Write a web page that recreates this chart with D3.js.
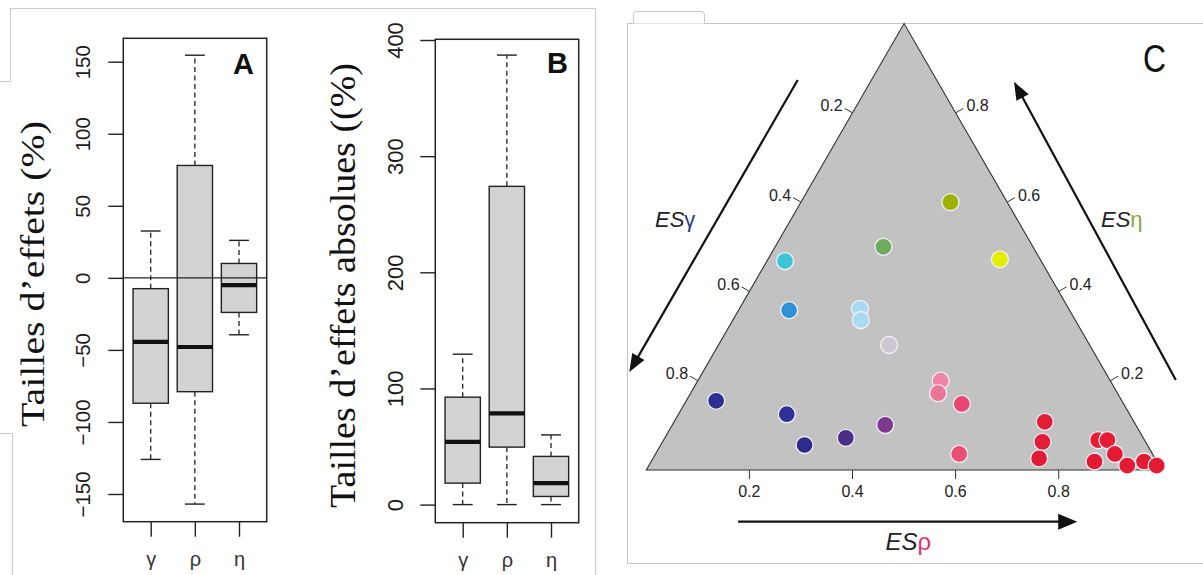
<!DOCTYPE html>
<html><head><meta charset="utf-8">
<script src="https://cdn.jsdelivr.net/npm/d3@7"></script>
<style>html,body{margin:0;padding:0;background:#fff;}svg{display:block;}</style>
</head><body>
<svg id="chart" width="1203" height="575"></svg>
<script>
// ---------------- DATA ----------------
const categories = ["γ", "ρ", "η"];

// Panel A : Tailles d'effets (%)
const aLowWhisker  = [-126, -157, -39.5];
const aQ1          = [-87, -79, -24];
const aMedian      = [-44.5, -48, -5];
const aQ3          = [-7.5, 78, 10];
const aHighWhisker = [32.5, 154.5, 26];
const aTicks       = [-150, -100, -50, 0, 50, 100, 150];

// Panel B : Tailles d'effets absolues (%)
const bLowWhisker  = [0, 0, 0];
const bQ1          = [18.5, 49.5, 7];
const bMedian      = [54, 78.5, 18.5];
const bQ3          = [92.5, 274, 41.5];
const bHighWhisker = [129.5, 387, 60];
const bTicks       = [0, 100, 200, 300, 400];

// Panel C : ternary effect sizes
const esGamma = [0.11, 0.29, 0.078, 0.497, 0.544, 0.405, 0.416, 0.389, 0.787, 0.665, 0.665, 0.577, 0.486, 0.329, 0.348, 0.314, 0.375, 0.173, 0.200, 0.225, 0.090, 0.072, 0.073, 0.121, 0.062, 0.025, 0.005];
const esRho   = [0.29, 0.21, 0.450, 0.035, 0.098, 0.234, 0.248, 0.331, 0.058, 0.210, 0.279, 0.351, 0.413, 0.471, 0.480, 0.538, 0.589, 0.719, 0.737, 0.749, 0.843, 0.861, 0.891, 0.860, 0.928, 0.956, 0.985];
const esEta   = [0.60, 0.50, 0.472, 0.468, 0.358, 0.361, 0.336, 0.280, 0.155, 0.125, 0.056, 0.072, 0.101, 0.200, 0.172, 0.148, 0.036, 0.108, 0.063, 0.026, 0.067, 0.067, 0.036, 0.019, 0.010, 0.019, 0.010];
const ternaryTicks = [0.2, 0.4, 0.6, 0.8];

// point colours (style)
const pointColors = ["#9db200", "#6fab5c", "#e2ee05", "#3cc5d6", "#2f92d6", "#a8dbf2", "#a8dbf2", "#cfc6d3",
  "#2b2f8f", "#2e3097", "#302a8c", "#4b2e87", "#7c3a8f", "#ef86a6", "#eb7499", "#e8486f", "#ec4d74",
  "#e11d38", "#e11d38", "#e21c36", "#e41c34", "#e41c34", "#e41a32", "#e41a32", "#e41a32", "#e41a32", "#e41a32"];

// ---------------- DRAW ----------------
const svg = d3.select("#chart");
const SANS = "'Liberation Sans', Arial, sans-serif";
const SERIF = "'Liberation Serif', 'Times New Roman', serif";

// faint screenshot frames
const frame = svg.append("g").attr("fill", "none").attr("stroke", "#cbcbcb").attr("stroke-width", 1);
frame.append("path").attr("d", "M0,81.5 H10.5 V8.5 H595.5 V575");
frame.append("path").attr("d", "M0,433.5 H12.5 V575");
frame.append("path").attr("d", "M1203,23.5 H627.5 V563.5 H1203").attr("stroke", "#c4c4c4");
frame.append("path").attr("d", "M633.5,23.5 V15 Q633.5,11.5 637,11.5 H701 Q704.5,11.5 704.5,15 V23.5").attr("fill", "#fff").attr("stroke", "#c8c8c8");

function boxPanel(cfg) {
  const g = svg.append("g");
  const x = d3.scaleLinear().domain([1, 3]).range(cfg.xRange);
  const y = d3.scaleLinear().domain(cfg.yDomain).range(cfg.yRange);
  const unit = x(2) - x(1);
  const bw = 0.8 * unit, cw = 0.45 * unit;
  const idx = d3.range(categories.length);

  const b = g.selectAll("g.box").data(idx).join("g").attr("class", "box");
  // whiskers
  b.append("line").attr("x1", i => x(i + 1)).attr("x2", i => x(i + 1))
    .attr("y1", i => y(cfg.q3[i])).attr("y2", i => y(cfg.hi[i]))
    .attr("stroke", "#222").attr("stroke-width", 1.3).attr("stroke-dasharray", "5,3.5");
  b.append("line").attr("x1", i => x(i + 1)).attr("x2", i => x(i + 1))
    .attr("y1", i => y(cfg.q1[i])).attr("y2", i => y(cfg.lo[i]))
    .attr("stroke", "#222").attr("stroke-width", 1.3).attr("stroke-dasharray", "5,3.5");
  b.append("line").attr("x1", i => x(i + 1) - cw / 2).attr("x2", i => x(i + 1) + cw / 2)
    .attr("y1", i => y(cfg.hi[i])).attr("y2", i => y(cfg.hi[i])).attr("stroke", "#222").attr("stroke-width", 1.4);
  b.append("line").attr("x1", i => x(i + 1) - cw / 2).attr("x2", i => x(i + 1) + cw / 2)
    .attr("y1", i => y(cfg.lo[i])).attr("y2", i => y(cfg.lo[i])).attr("stroke", "#222").attr("stroke-width", 1.4);
  // boxes
  b.append("rect").attr("x", i => x(i + 1) - bw / 2).attr("width", bw)
    .attr("y", i => y(cfg.q3[i])).attr("height", i => y(cfg.q1[i]) - y(cfg.q3[i]))
    .attr("fill", "#d3d3d3").attr("stroke", "#222").attr("stroke-width", 1.4);
  b.append("line").attr("x1", i => x(i + 1) - bw / 2).attr("x2", i => x(i + 1) + bw / 2)
    .attr("y1", i => y(cfg.med[i])).attr("y2", i => y(cfg.med[i]))
    .attr("stroke", "#111").attr("stroke-width", 4.2);
  if (cfg.zeroLine) {
    g.append("line").attr("x1", cfg.left).attr("x2", cfg.right)
      .attr("y1", y(0)).attr("y2", y(0)).attr("stroke", "#222").attr("stroke-width", 1.4);
  }
  // frame
  g.append("rect").attr("x", cfg.left).attr("y", cfg.top)
    .attr("width", cfg.right - cfg.left).attr("height", cfg.bottom - cfg.top)
    .attr("fill", "none").attr("stroke", "#222").attr("stroke-width", 1.5);

  // y axis
  const ya = g.append("g").attr("transform", `translate(${cfg.left},0)`)
    .call(d3.axisLeft(y).tickValues(cfg.ticks).tickSize(15).tickSizeOuter(0));
  ya.select(".domain").remove();
  ya.selectAll(".tick line").attr("stroke", "#222").attr("stroke-width", 1.4);
  ya.selectAll(".tick text").attr("x", null).attr("dy", null)
    .attr("transform", `translate(${cfg.tickLabelDx},0) rotate(-90)`)
    .attr("text-anchor", "middle").attr("fill", "#1a1a1a")
    .style("font-family", SANS).style("font-size", cfg.tickFont + "px");

  // x axis
  const xa = g.append("g").attr("transform", `translate(0,${cfg.bottom})`)
    .call(d3.axisBottom(x).tickValues([1, 2, 3]).tickFormat((d, i) => categories[i]).tickSize(15).tickSizeOuter(0));
  xa.select(".domain").remove();
  xa.selectAll(".tick line").attr("stroke", "#222").attr("stroke-width", 1.4);
  xa.selectAll(".tick text").attr("y", 44).attr("dy", null).attr("fill", "#333")
    .style("font-family", SANS).style("font-size", "20px");

  // y title
  g.append("text").attr("transform", `translate(${cfg.titleX},${cfg.titleY}) rotate(-90)`)
    .attr("text-anchor", "middle").attr("fill", "#111")
    .attr("textLength", cfg.titleLen).attr("lengthAdjust", "spacingAndGlyphs")
    .style("font-family", SERIF).style("font-size", cfg.titleFont + "px").text(cfg.title);
  // panel letter
  g.append("text").attr("x", cfg.letterX).attr("y", cfg.letterY).attr("fill", "#111")
    .style("font-family", SANS).style("font-weight", "bold").style("font-size", "29px").text(cfg.letter);
}

boxPanel({
  left: 123.3, right: 266.7, top: 38.3, bottom: 521.7,
  xRange: [150.7, 239], yDomain: [-150, 150], yRange: [494, 61.7],
  lo: aLowWhisker, q1: aQ1, med: aMedian, q3: aQ3, hi: aHighWhisker, ticks: aTicks,
  zeroLine: true, tickLabelDx: -33.5, tickFont: 20.5,
  title: "Tailles d’effets (%)", titleX: 43.5, titleY: 274, titleLen: 306, titleFont: 33,
  letter: "A", letterX: 233, letterY: 74
});
boxPanel({
  left: 435.3, right: 578.7, top: 39.3, bottom: 522.7,
  xRange: [462.7, 551], yDomain: [0, 400], yRange: [504.6, 40],
  lo: bLowWhisker, q1: bQ1, med: bMedian, q3: bQ3, hi: bHighWhisker, ticks: bTicks,
  zeroLine: false, tickLabelDx: -32, tickFont: 22,
  title: "Tailles d’effets absolues ((%)", titleX: 355, titleY: 285.5, titleLen: 445, titleFont: 36,
  letter: "B", letterX: 547, letterY: 73
});

// ---------------- TERNARY ----------------
const tg = svg.append("g");
const baseY = 470, leftX = 646.3, side = 515.5;
const apexY = baseY - side * Math.sqrt(3) / 2;
const xT = d3.scaleLinear().domain([0, 1]).range([leftX, leftX + side]);
const yT = d3.scaleLinear().domain([0, 1]).range([baseY, apexY]);
const pos = (g, r, e) => { const s = g + r + e; return [xT((r + e / 2) / s), yT(e / s)]; };

const corners = [pos(1, 0, 0), pos(0, 1, 0), pos(0, 0, 1)];
tg.append("path").attr("d", d3.line()(corners) + "Z")
  .attr("fill", "#c2c2c2").attr("stroke", "#333").attr("stroke-width", 1.1);

const tl = 9, c30 = Math.cos(Math.PI / 6), s30 = 0.5;
const tickG = tg.append("g").style("font-family", SANS).style("font-size", "16px").attr("fill", "#222");
ternaryTicks.forEach(v => {
  // base (ρ)
  let p = pos(1 - v, v, 0);
  tickG.append("line").attr("x1", p[0]).attr("y1", p[1]).attr("x2", p[0]).attr("y2", p[1] + tl).attr("stroke", "#333");
  tickG.append("text").attr("x", p[0]).attr("y", p[1] + 27).attr("text-anchor", "middle").text(v.toFixed(1));
  // left (γ)
  p = pos(v, 0, 1 - v);
  let q = [p[0] - tl * c30, p[1] - tl * s30];
  tickG.append("line").attr("x1", p[0]).attr("y1", p[1]).attr("x2", q[0]).attr("y2", q[1]).attr("stroke", "#333");
  tickG.append("text").attr("x", q[0] - 2).attr("y", q[1] + 3).attr("text-anchor", "end").text(v.toFixed(1));
  // right (η)
  p = pos(0, 1 - v, v);
  q = [p[0] + tl * c30, p[1] - tl * s30];
  tickG.append("line").attr("x1", p[0]).attr("y1", p[1]).attr("x2", q[0]).attr("y2", q[1]).attr("stroke", "#333");
  tickG.append("text").attr("x", q[0] + 3).attr("y", q[1] + 3).attr("text-anchor", "start").text(v.toFixed(1));
});

// points
tg.append("g").selectAll("circle").data(d3.range(esRho.length)).join("circle")
  .attr("cx", i => pos(esGamma[i], esRho[i], esEta[i])[0])
  .attr("cy", i => pos(esGamma[i], esRho[i], esEta[i])[1])
  .attr("r", 8.5)
  .attr("fill", i => pointColors[i])
  .attr("stroke", "#f3eef8").attr("stroke-width", 1.3);

// arrows
function arrow(x1, y1, x2, y2, len, hw) {
  const dx = x2 - x1, dy = y2 - y1, L = Math.hypot(dx, dy), ux = dx / L, uy = dy / L;
  const bx = x2 - ux * len, by = y2 - uy * len;
  tg.append("line").attr("x1", x1).attr("y1", y1).attr("x2", bx + ux * 2).attr("y2", by + uy * 2)
    .attr("stroke", "#111").attr("stroke-width", 2.2);
  tg.append("path").attr("d", d3.line()([[x2, y2], [bx - uy * hw, by + ux * hw], [bx + uy * hw, by - ux * hw]]) + "Z")
    .attr("fill", "#111");
}
arrow(797.7, 80, 629.3, 372, 18, 7);
arrow(1175.8, 380, 1014, 81.7, 18, 7);
arrow(738.2, 521.7, 1077.2, 521.7, 19, 8);

// axis names
function esLabel(x, y, size, sym, col) {
  const t = tg.append("text").attr("x", x).attr("y", y).style("font-family", SANS).style("font-size", size + "px").attr("fill", "#222");
  t.append("tspan").style("font-style", "italic").text("ES");
  t.append("tspan").attr("fill", col).text(sym);
}
esLabel(655, 227, 22, "γ", "#2b3a8f");
esLabel(1101, 227, 22, "η", "#8aa73a");
esLabel(885.5, 550, 24, "ρ", "#e6306a");

tg.append("text").attr("x", 1143).attr("y", 72).attr("fill", "#111")
  .attr("textLength", 23).attr("lengthAdjust", "spacingAndGlyphs")
  .style("font-family", SANS).style("font-size", "39px").text("C");
</script>
</body></html>
